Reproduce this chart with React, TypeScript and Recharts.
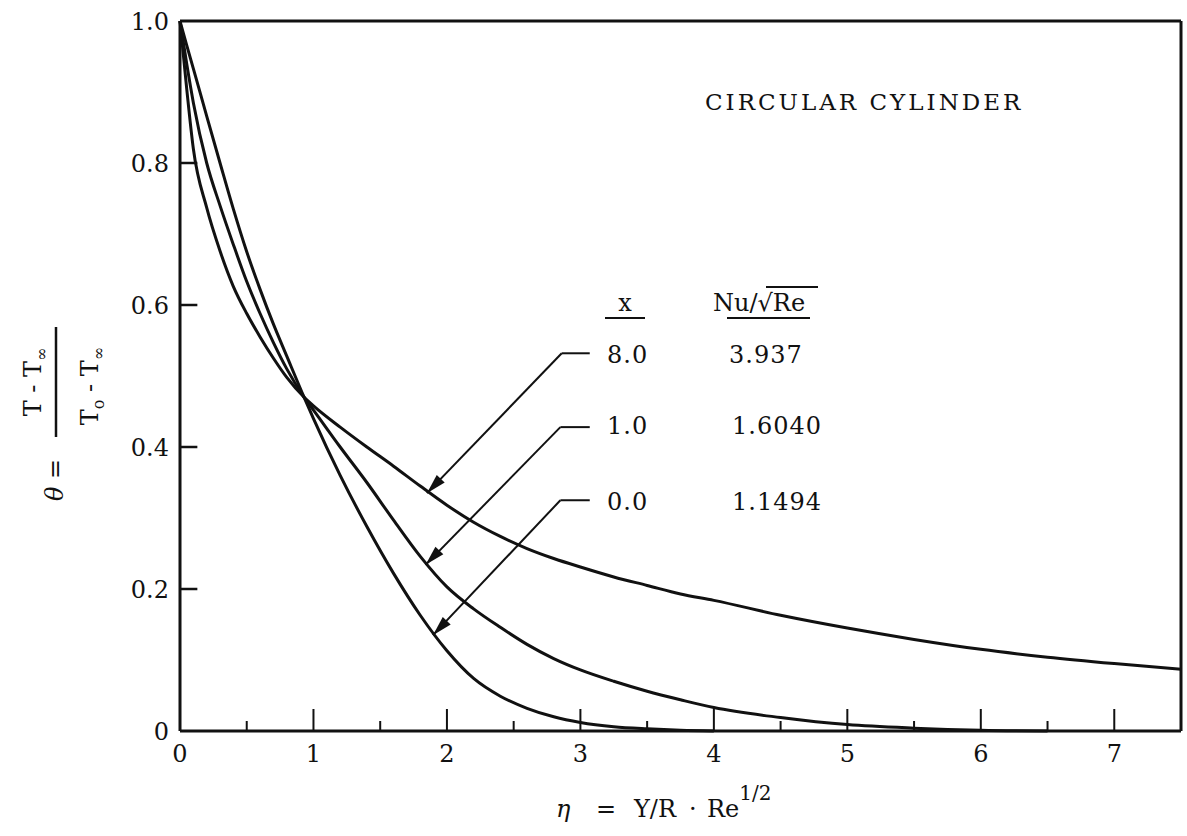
import { LineChart, Line, XAxis, YAxis, ReferenceLine, ReferenceDot } from 'recharts';

// η = Y/R · Re^1/2  and θ profiles
const eta = [0, 0.05, 0.1, 0.2, 0.3, 0.4, 0.5, 0.6, 0.7, 0.8, 0.93, 1.0, 1.2, 1.4, 1.6, 1.8, 2.0, 2.2, 2.4, 2.6, 2.8, 3.0, 3.25, 3.5, 3.75, 4.0, 4.5, 5.0, 5.5, 6.0, 6.5, 7.0, 7.5];
const theta8 = [1.0, 0.905, 0.82, 0.737, 0.676, 0.626, 0.588, 0.555, 0.525, 0.498, 0.47, 0.458, 0.428, 0.4, 0.373, 0.345, 0.318, 0.294, 0.274, 0.257, 0.243, 0.231, 0.217, 0.205, 0.193, 0.184, 0.163, 0.145, 0.129, 0.115, 0.104, 0.095, 0.087];
const theta1 = [1.0, 0.94, 0.885, 0.8, 0.74, 0.685, 0.633, 0.588, 0.547, 0.51, 0.47, 0.452, 0.4, 0.35, 0.297, 0.246, 0.203, 0.172, 0.146, 0.122, 0.102, 0.086, 0.07, 0.056, 0.044, 0.033, 0.019, 0.009, 0.004, 0.001, 0, null, null];
const theta0 = [1.0, 0.966, 0.933, 0.866, 0.8, 0.735, 0.675, 0.622, 0.573, 0.528, 0.47, 0.44, 0.36, 0.288, 0.222, 0.163, 0.113, 0.074, 0.049, 0.032, 0.02, 0.012, 0.006, 0.003, 0.001, 0, null, null, null, null, null, null, null];

const xMajor = [0, 1, 2, 3, 4, 5, 6, 7];
const xMinor = [0.5, 1.5, 2.5, 3.5, 4.5, 5.5, 6.5];
const yTicks = [0, 0.2, 0.4, 0.6, 0.8, 1.0];
const yInner = [0.2, 0.4, 0.6, 0.8];
const yInnerLen = 0.13; // inward tick length, in η units

// legend table
const caseX = ['8.0', '1.0', '0.0'];
const caseNu = ['3.937', '1.6040', '1.1494'];

// leader lines, in (η, θ): horizontal stub at the label, elbow, arrow tip on the curve
const leaderTheta = [0.532, 0.428, 0.325];
const leaderStart = 3.07;
const leaderElbow = [2.86, 2.85, 2.85];
const tipEta = [1.85, 1.84, 1.895];
const tipTheta = [0.335, 0.234, 0.135];

const rows = eta.map((e, i) => ({ eta: e, t8: theta8[i], t1: theta1[i], t0: theta0[i] }));
const xTicks = [...xMajor, ...xMinor].sort((a, b) => a - b);

const FONT = '"DejaVu Serif", serif';
const INK = '#111';
const X_MARGIN = 14;

// bottom axis: label on integers, inward tick marks (long on integers, short on halves)
const XTick = (p: any) => {
  const { x, y, payload } = p;
  const v = payload.value as number;
  const axisY = y - X_MARGIN;
  const major = Number.isInteger(v);
  return (
    <g>
      {v > 0 && <line x1={x} x2={x} y1={axisY} y2={axisY - (major ? 22 : 10)} stroke={INK} strokeWidth={2} />}
      {major && (
        <text x={x} y={y} dy="0.71em" textAnchor="middle" fontSize={24} fontFamily={FONT} fill={INK}>{v}</text>
      )}
    </g>
  );
};

const Arrowhead = (p: any) => {
  const { cx, cy } = p;
  if (cx == null || cy == null) return <g />;
  const ux = -0.69, uy = 0.72;
  const len = 20, half = 5.5;
  const bx = cx - ux * len, by = cy - uy * len;
  const px = -uy, py = ux;
  return (
    <polygon
      points={`${cx},${cy} ${bx + px * half},${by + py * half} ${bx - px * half},${by - py * half}`}
      fill={INK}
    />
  );
};

export default function App() {
  return (
    <div style={{ position: 'absolute', left: 0, top: 0, width: 1187, height: 836, background: '#fff' }}>
      <LineChart width={1187} height={836} data={rows} margin={{ top: 21, right: 6, bottom: 65, left: 120 }}>
        <XAxis
          xAxisId="main" dataKey="eta" type="number" domain={[0, 7.5]} ticks={xTicks} interval={0}
          tickLine={false} tickSize={0} tickMargin={X_MARGIN} height={40}
          axisLine={{ stroke: INK, strokeWidth: 3 }} tick={<XTick />}
        />
        <YAxis
          yAxisId="main" type="number" domain={[0, 1]} ticks={yTicks} interval={0}
          tickFormatter={(v: number) => (v === 0 ? '0' : v.toFixed(1))}
          tickLine={false} tickSize={0} tickMargin={11} width={60}
          axisLine={{ stroke: INK, strokeWidth: 3 }}
          tick={{ fontSize: 24, fill: INK, fontFamily: FONT }}
        />

        <ReferenceLine xAxisId="main" yAxisId="main" y={1} stroke={INK} strokeWidth={3} ifOverflow="visible" />
        <ReferenceLine xAxisId="main" yAxisId="main" x={7.5} stroke={INK} strokeWidth={3} ifOverflow="visible" />
        {yInner.map((v) => (
          <ReferenceLine key={`yt${v}`} xAxisId="main" yAxisId="main" ifOverflow="visible"
            segment={[{ x: 0, y: v }, { x: yInnerLen, y: v }]} stroke={INK} strokeWidth={2.5} />
        ))}

        <Line xAxisId="main" yAxisId="main" dataKey="t8" type="monotone" stroke={INK} strokeWidth={3} dot={false} isAnimationActive={false} />
        <Line xAxisId="main" yAxisId="main" dataKey="t1" type="monotone" stroke={INK} strokeWidth={3} dot={false} isAnimationActive={false} />
        <Line xAxisId="main" yAxisId="main" dataKey="t0" type="monotone" stroke={INK} strokeWidth={3} dot={false} isAnimationActive={false} />

        {caseX.map((c, i) => (
          <ReferenceLine
            key={`h${c}`} xAxisId="main" yAxisId="main" ifOverflow="visible"
            segment={[{ x: leaderStart, y: leaderTheta[i] }, { x: leaderElbow[i], y: leaderTheta[i] }]}
            stroke={INK} strokeWidth={2}
          />
        ))}
        {caseX.map((c, i) => (
          <ReferenceLine
            key={`d${c}`} xAxisId="main" yAxisId="main" ifOverflow="visible"
            segment={[{ x: leaderElbow[i], y: leaderTheta[i] }, { x: tipEta[i], y: tipTheta[i] }]}
            stroke={INK} strokeWidth={2}
          />
        ))}
        {caseX.map((c, i) => (
          <ReferenceDot
            key={`a${c}`} xAxisId="main" yAxisId="main" ifOverflow="visible"
            x={tipEta[i]} y={tipTheta[i]} r={1} shape={Arrowhead}
          />
        ))}
      </LineChart>

      <svg width={1187} height={836} style={{ position: 'absolute', left: 0, top: 0, pointerEvents: 'none' }}
        fontFamily={FONT} fill={INK}>
        <text x={705} y={110} fontSize={23} letterSpacing={3}>CIRCULAR CYLINDER</text>

        {/* legend table */}
        <text x={625} y={311} fontSize={24} textAnchor="middle">x</text>
        <line x1={605} x2={645} y1={318} y2={318} stroke={INK} strokeWidth={2} />
        <text x={713} y={311} fontSize={24}>Nu/√Re</text>
        <line x1={766} x2={818} y1={287} y2={287} stroke={INK} strokeWidth={2} />
        <line x1={727} x2={810} y1={318} y2={318} stroke={INK} strokeWidth={2} />
        {caseX.map((c, i) => (
          <g key={c}>
            <text x={607} y={[363, 434, 510][i]} fontSize={24} letterSpacing={1}>{c}</text>
            <text x={i === 0 ? 729 : 732} y={[363, 434, 510][i]} fontSize={24} letterSpacing={1}>{caseNu[i]}</text>
          </g>
        ))}

        {/* y axis title: θ = (T - T∞)/(T0 - T∞), rotated */}
        <text transform="rotate(-90 63 480)" x={63} y={480} fontSize={24} textAnchor="middle">
          <tspan fontStyle="italic">θ</tspan> =
        </text>
        <text transform="rotate(-90 41 382)" x={41} y={382} fontSize={24} textAnchor="middle">
          T - T<tspan dy={6} fontSize={16}>∞</tspan>
        </text>
        <line x1={56} x2={56} y1={327} y2={437} stroke={INK} strokeWidth={2.5} />
        <text transform="rotate(-90 98 386)" x={98} y={386} fontSize={24} textAnchor="middle">
          T<tspan dy={6} fontSize={16}>o</tspan><tspan dy={-6}> - T</tspan><tspan dy={6} fontSize={16}>∞</tspan>
        </text>

        {/* x axis title */}
        <text y={817} fontSize={24}>
          <tspan x={556} fontStyle="italic">η</tspan>
          <tspan x={596}>=</tspan>
          <tspan x={634}>Y/R</tspan>
          <tspan x={689}>·</tspan>
          <tspan x={707}>Re</tspan>
          <tspan dy={-17} fontSize={20}>1/2</tspan>
        </text>
      </svg>
    </div>
  );
}
